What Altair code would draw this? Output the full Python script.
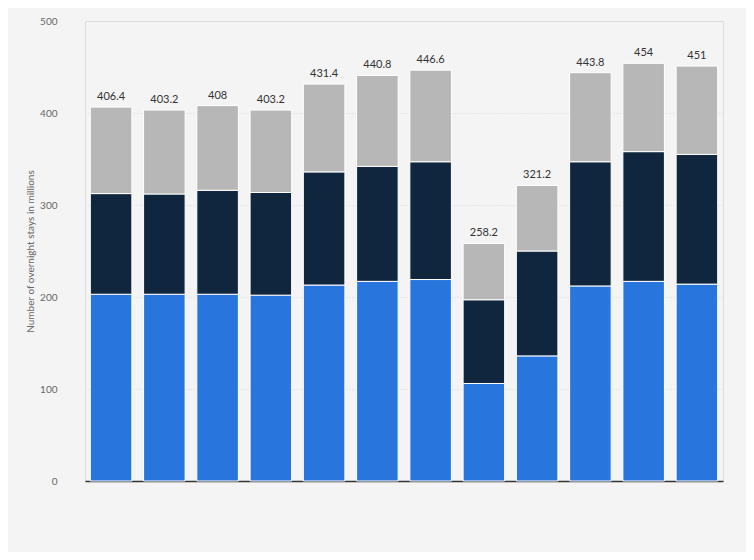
import pandas as pd
import altair as alt

# values (millions of overnight stays)
periods = [str(y) for y in range(2011, 2023)]
blue_vals = [203, 203, 203, 202, 213, 217, 219, 106, 136, 212, 217, 214]
dark_tops = [312.4, 312, 316, 313.6, 336, 342, 347, 197, 250, 347, 358, 355]
totals = [406.4, 403.2, 408, 403.2, 431.4, 440.8, 446.6, 258.2, 321.2, 443.8, 454, 451]
series = ['Segment A', 'Segment B', 'Segment C']
colors = ['#2876dd', '#10263e', '#b7b7b7']

rows = []
for p, b, d, t in zip(periods, blue_vals, dark_tops, totals):
    rows.append({'period': p, 'series': series[0], 'value': b, 'rank': 0})
    rows.append({'period': p, 'series': series[1], 'value': round(d - b, 1), 'rank': 1})
    rows.append({'period': p, 'series': series[2], 'value': round(t - d, 1), 'rank': 2})
df = pd.DataFrame(rows)
tot = pd.DataFrame({'period': periods, 'total': totals})

x = alt.X('period:N', title=None, scale=alt.Scale(paddingInner=0.22, paddingOuter=0.1),
          axis=alt.Axis(labels=False, ticks=False, domainColor='#333333', domainWidth=1.5))

bars = alt.Chart(df).mark_bar(stroke='white', strokeWidth=1).encode(
    x=x,
    y=alt.Y('value:Q', stack='zero', title='Number of overnight stays in millions',
            scale=alt.Scale(domain=[0, 500]),
            axis=alt.Axis(values=[0, 100, 200, 300, 400, 500], domain=False, ticks=False,
                          gridDash=[1, 2], gridColor='#d8d8d8', labelColor='#666666',
                          labelFontSize=10, titleFontSize=10, titleColor='#666666',
                          titleFontWeight='normal', labelPadding=28)),
    color=alt.Color('series:N', scale=alt.Scale(domain=series, range=colors), legend=None),
    order=alt.Order('rank:Q'),
)

labels = alt.Chart(tot).mark_text(dy=-10, fontSize=11, color='#333333').encode(
    x=x, y=alt.Y('total:Q'), text=alt.Text('total:Q'))

chart = (bars + labels).properties(
    width=638, height=460, background='#f4f4f4',
    autosize=alt.AutoSizeParams(type='none'),
    padding={'left': 77, 'top': 13, 'right': 23, 'bottom': 71},
).configure_view(fill='#f7f7f7', stroke=None).configure(font='Lato')

chart.save("out.html", embed_options={"renderer": "svg", "actions": False})
